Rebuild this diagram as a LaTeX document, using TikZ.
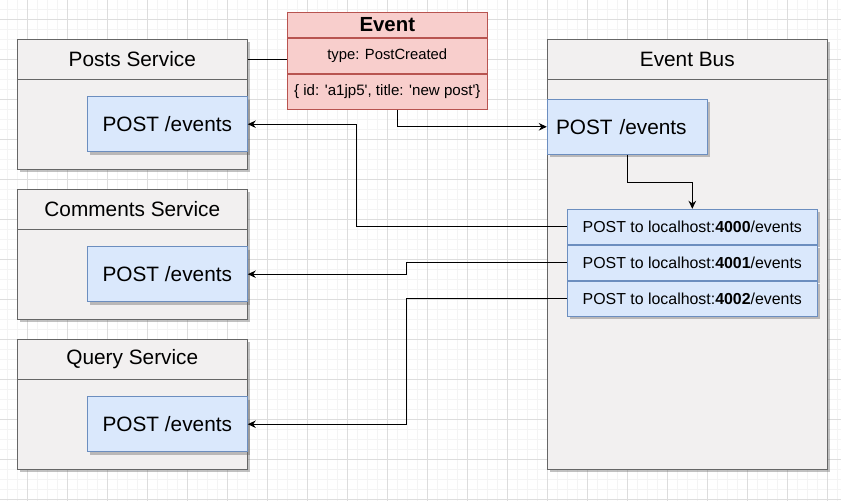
\documentclass[tikz,border=0pt]{standalone}
\usepackage{fontspec}
\setmainfont{Liberation Sans}[Ligatures=TeXOff]
\usetikzlibrary{positioning,arrows.meta,calc,shadows}
\definecolor{cGridMin}{HTML}{F4F4F4}
\definecolor{cGridMaj}{HTML}{DDDDDD}
\definecolor{cSvc}{HTML}{F2F0F0}
\definecolor{cSvcLine}{HTML}{666666}
\definecolor{cEp}{HTML}{DAE8FC}
\definecolor{cEpLine}{HTML}{6C8EBF}
\definecolor{cEvt}{HTML}{F8CECC}
\definecolor{cEvtLine}{HTML}{B85450}
\tikzset{
  gmin/.style={cGridMin, line width=0.8pt},
  gmaj/.style={cGridMaj, line width=1pt},
  shd/.style={drop shadow={shadow xshift=3pt, shadow yshift=-3pt, opacity=0.4, fill=black!60}},
  svc/.style={draw=cSvcLine, fill=cSvc, line width=1pt, inner sep=0pt, shd},
  svchead/.style={draw=cSvcLine, line width=1pt, inner sep=0pt, minimum height=40pt,
                  font=\fontsize{20.8}{24}\selectfont},
  ep/.style={draw=cEpLine, fill=cEp, line width=1pt, inner sep=0pt, minimum width=160pt,
             minimum height=55pt, font=\fontsize{20.8}{24}\selectfont, shd},
  row/.style={draw=cEpLine, fill=cEp, line width=1pt, inner sep=0pt, minimum width=250pt,
              minimum height=35pt, font=\fontsize{15.9}{19}\selectfont, shd},
  evt/.style={draw=cEvtLine, fill=cEvt, line width=1pt, inner sep=0pt, minimum width=200pt},
  ln/.style={line width=1.1pt},
  ar/.style={-{Stealth[length=8pt, width=7.5pt]}, line width=1.1pt},
}

\begin{document}
\begin{tikzpicture}[x=1pt, y=-1pt]
    \useasboundingbox (0,0) rectangle (841,501);
    \fill[white] (0,0) rectangle (841,501);

    % background grid
    \foreach \x in {7.3,17.3,...,840} \draw[gmin] (\x,0) -- (\x,501);
    \foreach \y in {9.3,19.3,...,500} \draw[gmin] (0,\y) -- (841,\y);
    \foreach \x in {27.3,67.3,...,840} \draw[gmaj] (\x,0) -- (\x,501);
    \foreach \y in {19.3,59.3,...,500} \draw[gmaj] (0,\y) -- (841,\y);

    % services on the left
    \node[svc, minimum width=230pt, minimum height=130pt] (posts) at (132.3,104.3) {};
    \node[svchead, minimum width=230pt, anchor=north] (postsT) at (posts.north) {Posts Service};
    \node[ep] (pep) at (167.3,124.2) {POST /events};

    \node[svc, minimum width=230pt, minimum height=130pt] (comments) at (132.3,254.3) {};
    \node[svchead, minimum width=230pt, anchor=north] (commentsT) at (comments.north) {Comments Service};
    \node[ep] (cep) at (167.3,274.2) {POST /events};

    \node[svc, minimum width=230pt, minimum height=130pt] (query) at (132.3,404.3) {};
    \node[svchead, minimum width=230pt, anchor=north] (queryT) at (query.north) {Query Service};
    \node[ep] (qep) at (167.3,424.2) {POST /events};

    % event bus
    \node[svc, minimum width=280pt, minimum height=430pt] (bus) at (687.3,254.3) {};
    \node[svchead, minimum width=280pt, anchor=north] (busT) at (bus.north) {Event Bus};
    \node[ep, text width=142.6pt, inner xsep=8.7pt, align=left] (bep) at (627.3,126.8) {POST /events};
    \node[row] (r4000) at (692.3,226.8) {POST to localhost:\textbf{4000}/events};
    \node[row, below=0pt of r4000] (r4001) {POST to localhost:\textbf{4001}/events};
    \node[row, below=0pt of r4001] (r4002) {POST to localhost:\textbf{4002}/events};

    % the event
    \node[evt, minimum height=25pt, font=\fontsize{20.4}{24}\selectfont\bfseries] (evh) at (387.3,24.5) {Event};
    \node[evt, minimum height=35pt, font=\fontsize{14.8}{18}\selectfont, below=0pt of evh] (evr1) {type: PostCreated};
    \node[evt, minimum height=35pt, font=\fontsize{15.1}{18}\selectfont, below=0pt of evr1] (evr2) {\{ id: 'a1jp5', title: 'new post'\}};

    % connectors
    \draw[ln] (postsT.east) -- (postsT.east -| evr1.west);
    \draw[ar] ($(evr2.south)+(10,0)$) |- (bep.west);
    \draw[ar] (bep.south) -- ++(0,27.5) -| (r4000.north);
    \draw[ar] (r4000.west) -- ++(-210,0) |- (pep.east);
    \draw[ar] (r4001.west) -- ++(-160,0) |- (cep.east);
    \draw[ar] (r4002.west) -- ++(-160,0) |- (qep.east);
\end{tikzpicture}
\end{document}
